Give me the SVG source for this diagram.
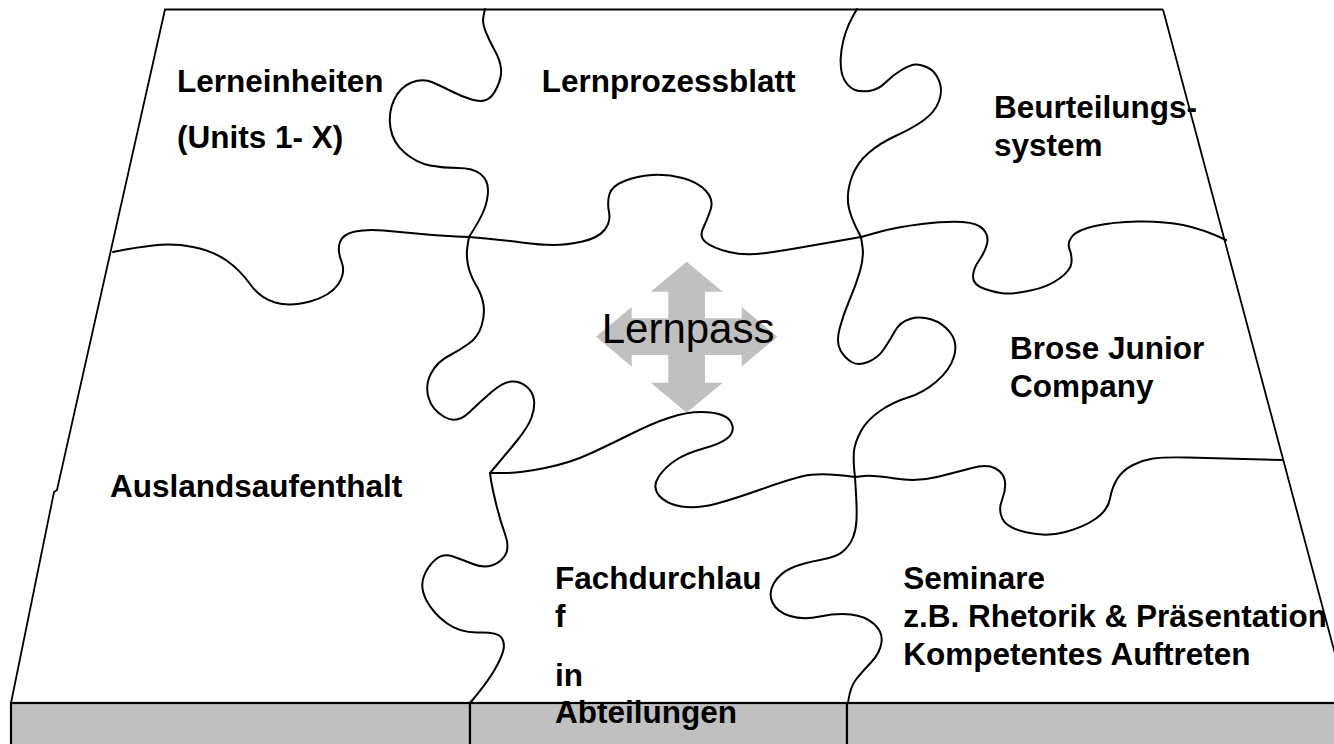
<svg xmlns="http://www.w3.org/2000/svg" width="1334" height="744" viewBox="0 0 1334 744">
<style>
.cut{fill:none;stroke:#000;stroke-width:2;stroke-linejoin:round;stroke-linecap:round}
.edge{fill:none;stroke:#000;stroke-width:1.8}
.band{fill:#c0c0c0;stroke:#000;stroke-width:2.2}
.lbl{font-family:"Liberation Sans",Arial,sans-serif;font-weight:bold;font-size:31.5px;fill:#000}
.big{font-family:"Liberation Sans",Arial,sans-serif;font-size:42px;fill:#000}
</style>
<rect width="1334" height="744" fill="#fff"/>
<g id="base">
<rect class="band" x="11" y="703" width="459" height="50"/>
<rect class="band" x="470" y="703" width="377" height="50"/>
<rect class="band" x="847" y="703" width="500" height="50"/>
</g>
<g id="arrow">
<polygon fill="#c0c0c0" points="686.7,261.7 722.7,291.7 705,291.7 705,318.3 741.7,318.3 741.7,307 777.3,336.7 741.7,366.4 741.7,355 705,355 705,382.7 722.7,382.7 686.7,412.7 650.7,382.7 668.3,382.7 668.3,355 631.7,355 631.7,366.4 596,336.7 631.7,307 631.7,318.3 668.3,318.3 668.3,291.7 650.7,291.7"/>
</g>
<g id="connectors">
<polyline class="edge" points="1163,9.5 165,9.5 57,490 54,492 11,703"/>
<line class="edge" x1="1163" y1="9.5" x2="1350" y2="710"/>
<path class="cut" d="M485,9 L483.5,16 Q482,23 486,32.5 Q490,42 495,51 Q500,60 501,68.5 Q502,77 497,87.5 Q492,98 486,100 Q480,102 471.5,99.5 Q463,97 453,92 Q443,87 433,82.5 Q423,78 411.5,82.5 Q400,87 394,100 Q388,113 390.5,128 Q393,143 405,153 Q417,163 430,165.5 Q443,168 458,168 Q473,168 480.5,174 Q488,180 488,190 Q488,200 484,210 Q480,220 469,237"/>
<path class="cut" d="M469,237 L467.5,246 Q466,255 468,265 Q470,275 476,285 Q482,295 483.5,305 Q485,315 481.5,326 Q478,337 469,343.5 Q460,350 448.5,356 Q437,362 431,373.5 Q425,385 428.5,397.5 Q432,410 444.5,417 Q457,424 468.5,413 Q480,402 491.5,392 Q503,382 511.5,381.5 Q520,381 526.5,386.5 Q533,392 534,400 Q535,408 531.5,417.5 Q528,427 517.5,440 Q507,453 490,473"/>
<path class="cut" d="M490,473 L491,480 Q492,487 496,503.5 Q500,520 505,534 Q510,548 505,555.5 Q500,563 491.5,565.5 Q483,568 473,564 Q463,560 453,556.5 Q443,553 435,560 Q427,567 423.5,577.5 Q420,588 426.5,600.5 Q433,613 446.5,623 Q460,633 478.5,632.5 Q497,632 501,637 Q505,642 503.5,649.5 Q502,657 494.5,670 Q487,683 470,703"/>
<path class="cut" d="M857,9 L853,16 Q849,23 846,31.5 Q843,40 841.5,50 Q840,60 841,68.5 Q842,77 846,82.5 Q850,88 855,90 Q860,92 869,91 Q878,90 885.5,82.5 Q893,75 901.5,70 Q910,65 915,64.5 Q920,64 927.5,67.5 Q935,71 939,80.5 Q943,90 939,101 Q935,112 924,120 Q913,128 896.5,135.5 Q880,143 868.5,153 Q857,163 852,176.5 Q847,190 848,202.5 Q849,215 861,237"/>
<path class="cut" d="M861,237 L862.5,247 Q864,257 860,271 Q856,285 849.5,300 Q843,315 839.5,329 Q836,343 840.5,350.5 Q845,358 851.5,362 Q858,366 868,362 Q878,358 884,349 Q890,340 895,331 Q900,322 910,319 Q920,316 931.5,319.5 Q943,323 950.5,333 Q958,343 954,356.5 Q950,370 936.5,381.5 Q923,393 908,397.5 Q893,402 880,411 Q867,420 861,431 Q855,442 854,451 Q853,460 855,477"/>
<path class="cut" d="M855,477 L856,493.5 Q857,510 856.5,520 Q856,530 853,537.5 Q850,545 843.5,551 Q837,557 820,560 Q803,563 791.5,568 Q780,573 774,583 Q768,593 772.5,602.5 Q777,612 790,616 Q803,620 820,616.5 Q837,613 851,614.5 Q865,616 874,624 Q883,632 881.5,642.5 Q880,653 871,662.5 Q862,672 856,679.5 Q850,687 848,703"/>
<path class="cut" d="M113,252 L123,250 Q133,248 153,245.5 Q173,243 193,247 Q213,251 226.5,260.5 Q240,270 250,284 Q260,298 275,302.5 Q290,307 310,301.5 Q330,296 338,284.5 Q346,273 341.5,261.5 Q337,250 340,242 Q343,234 355,231.5 Q367,229 383.5,230.5 Q400,232 421.5,234 Q443,236 469,237"/>
<path class="cut" d="M469,237 L486,238.5 Q503,240 521.5,242.5 Q540,245 553.5,245 Q567,245 582.5,241.5 Q598,238 604.5,230 Q611,222 609,212 Q607,202 609.5,194 Q612,186 624.5,181 Q637,176 652,175 Q667,174 682.5,178 Q698,182 706,191 Q714,200 710.5,210 Q707,220 703,228.5 Q699,237 706,242.5 Q713,248 729,252 Q745,256 766,253 Q787,250 803.5,247 Q820,244 861,237"/>
<path class="cut" d="M861,237 L879,232 Q897,227 922,224 Q947,221 962.5,222 Q978,223 983.5,229.5 Q989,236 987,244 Q985,252 979,260.5 Q973,269 973,277 Q973,285 985,289 Q997,293 1005,293.5 Q1013,294 1030.5,290.5 Q1048,287 1059.5,278.5 Q1071,270 1071.5,262.5 Q1072,255 1069.5,249 Q1067,243 1072,236.5 Q1077,230 1095,226 Q1113,222 1138,221.5 Q1163,221 1183,225 Q1203,229 1226,240"/>
<path class="cut" d="M490,473 L505,473 Q520,473 545,468 Q570,463 591.5,453 Q613,443 633,433 Q653,423 670,417.5 Q687,412 701,412 Q715,412 723,415.5 Q731,419 732.5,426 Q734,433 727,438.5 Q720,444 703.5,448.5 Q687,453 676,460 Q665,467 658.5,477 Q652,487 659,495.5 Q666,504 681.5,506.5 Q697,509 717,503.5 Q737,498 762,489 Q787,480 803.5,476 Q820,472 855,477"/>
<path class="cut" d="M855,477 L864,476 Q873,475 895,478.5 Q917,482 937,477 Q957,472 972,468 Q987,464 995.5,468.5 Q1004,473 1005,481.5 Q1006,490 1002,500 Q998,510 1002.5,519 Q1007,528 1027,532.5 Q1047,537 1065.5,532 Q1084,527 1096,518.5 Q1108,510 1110,498.5 Q1112,487 1117.5,478.5 Q1123,470 1133,465 Q1143,460 1153,458.5 Q1163,457 1188,457.5 Q1213,458 1283,460"/>
</g>
<g id="lerneinheiten"><text class="lbl" x="177" y="91.7">Lerneinheiten</text><text class="lbl" x="177" y="148">(Units 1- X)</text></g>
<g id="lernprozessblatt"><text class="lbl" x="541.7" y="91.7">Lernprozessblatt</text></g>
<g id="beurteilungssystem"><text class="lbl" x="994" y="118.3">Beurteilungs-</text><text class="lbl" x="994" y="156.3">system</text></g>
<g id="lernpass"><text class="big" x="601.7" y="342.7">Lernpass</text></g>
<g id="brose"><text class="lbl" x="1010" y="359.3">Brose Junior</text><text class="lbl" x="1010" y="397.3">Company</text></g>
<g id="ausland"><text class="lbl" x="110" y="496.7">Auslandsaufenthalt</text></g>
<g id="fachdurchlauf"><text class="lbl" x="555" y="589.3">Fachdurchlau</text><text class="lbl" x="555" y="626.7">f</text><text class="lbl" x="555" y="686">in</text><text class="lbl" x="555" y="723.3">Abteilungen</text></g>
<g id="seminare"><text class="lbl" x="903.3" y="589.3">Seminare</text><text class="lbl" x="903.3" y="627.3">z.B. Rhetorik &amp; Präsentation</text><text class="lbl" x="903.3" y="665">Kompetentes Auftreten</text></g>
</svg>
